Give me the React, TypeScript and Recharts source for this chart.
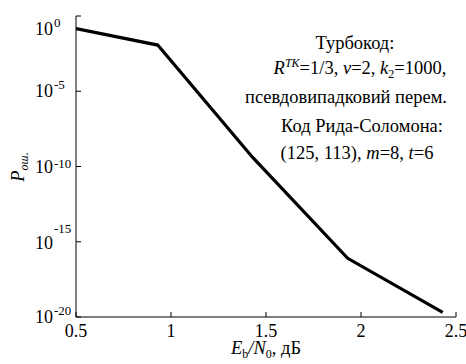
import React from 'react';
import { LineChart, Line, XAxis, YAxis, Customized } from 'recharts';

// Eb/N0, dB
const snr = [0.5, 0.93, 1.43, 1.93, 2.43];
// error probability
const pErr = [0.145, 0.0117, 4e-10, 7.9e-17, 2e-20];

const xTicks = [0.5, 1, 1.5, 2, 2.5];
const yTicks = [1, 1e-5, 1e-10, 1e-15, 1e-20];

const notes = [
  'Турбокод:',
  'R^TK=1/3, v=2, k2=1000,',
  'псевдовипадковий перем.',
  'Код Рида-Соломона:',
  '(125, 113), m=8, t=6',
];

const data = snr.map((x, i) => ({ x, p: pErr[i] }));

const FONT = '"Liberation Serif", "Times New Roman", Times, "DejaVu Serif", "Noto Serif", serif';
const W = 466;
const H = 364;

// superscript raise per exponent (the source figure is a bit uneven here)
const supRaise: Record<number, number> = { 0: 6.5, '-5': 7, '-10': 3, '-15': 14, '-20': 7 };
const labelShift: Record<number, number> = { 0: 13, '-15': 1 };

const txt = { fill: '#000', fontFamily: FONT };

const BottomTick = (props: any) => {
  const { x, y, payload } = props;
  return (
    <g>
      <line x1={x} y1={y} x2={x} y2={y - 5} stroke="#000" />
      <text x={x} y={y + 20} textAnchor="middle" fontSize={18} {...txt}>
        {String(payload.value)}
      </text>
    </g>
  );
};

const TopTick = (props: any) => {
  const { x, y } = props;
  return <line x1={x} y1={y} x2={x} y2={y + 5} stroke="#000" />;
};

const LeftTick = (props: any) => {
  const { x, y, payload } = props;
  const e = Math.round(Math.log10(payload.value));
  const base = y + 6 + (labelShift[e] || 0);
  return (
    <g>
      <line x1={x} y1={y} x2={x + 5} y2={y} stroke="#000" />
      <text x={x - 23} y={base} textAnchor="end" fontSize={18} {...txt}>
        10
      </text>
      <text x={x - 22} y={base - 1.5 - (supRaise[e] || 0)} fontSize={13} {...txt}>
        {String(e)}
      </text>
    </g>
  );
};

const RightTick = (props: any) => {
  const { x, y } = props;
  return <line x1={x} y1={y} x2={x - 5} y2={y} stroke="#000" />;
};

const Notes = () => {
  const t = { fontSize: 18.5, textAnchor: 'middle' as const, ...txt };
  return (
    <g>
      <text x={355} y={49} {...t}>{notes[0]}</text>
      <text x={360} y={74} {...t}>
        <tspan fontStyle="italic">R</tspan>
        <tspan fontStyle="italic" fontSize={12} dy={-7}>TK</tspan>
        <tspan dy={7}>=1/3, </tspan>
        <tspan fontStyle="italic">v</tspan>
        <tspan>=2, </tspan>
        <tspan fontStyle="italic">k</tspan>
        <tspan fontSize={12} dy={4}>2</tspan>
        <tspan dy={-4}>=1000,</tspan>
      </text>
      <text x={346} y={103} {...t}>{notes[2]}</text>
      <text x={362} y={132} {...t}>{notes[3]}</text>
      <text x={357} y={159} {...t}>
        <tspan>(125, 113), </tspan>
        <tspan fontStyle="italic">m</tspan>
        <tspan>=8, </tspan>
        <tspan fontStyle="italic">t</tspan>
        <tspan>=6</tspan>
      </text>
      <text x={266} y={354} {...t}>
        <tspan fontStyle="italic">E</tspan>
        <tspan fontSize={12} dy={4}>b</tspan>
        <tspan dy={-4} fontStyle="italic">/N</tspan>
        <tspan fontSize={12} dy={4}>0</tspan>
        <tspan dy={-4}>, дБ</tspan>
      </text>
      <text x={0} y={0} transform="translate(24,167) rotate(-90)" {...t}>
        <tspan fontStyle="italic">P</tspan>
        <tspan fontStyle="italic" fontSize={12} dy={4}>ош.</tspan>
      </text>
    </g>
  );
};

export default function App() {
  return (
    <div style={{ position: 'absolute', left: 0, top: 0, width: W, height: H, background: '#fff' }}>
      <LineChart width={W} height={H} data={data} margin={{ top: 16, right: 10, left: 0, bottom: 0 }}>
        <XAxis
          xAxisId="b"
          dataKey="x"
          type="number"
          domain={[0.5, 2.5]}
          ticks={xTicks}
          allowDataOverflow
          height={47}
          tickSize={0}
          tickMargin={0}
          tickLine={false}
          axisLine={{ stroke: '#000', strokeWidth: 1 }}
          tick={<BottomTick />}
        />
        <XAxis
          xAxisId="t"
          orientation="top"
          dataKey="x"
          type="number"
          domain={[0.5, 2.5]}
          ticks={xTicks}
          allowDataOverflow
          height={0}
          tickSize={0}
          tickMargin={0}
          tickLine={false}
          axisLine={{ stroke: '#000', strokeWidth: 1 }}
          tick={<TopTick />}
        />
        <YAxis
          yAxisId="l"
          scale="log"
          type="number"
          domain={[1e-20, 1]}
          ticks={yTicks}
          allowDataOverflow
          width={76}
          tickSize={0}
          tickMargin={0}
          tickLine={false}
          axisLine={{ stroke: '#000', strokeWidth: 1 }}
          tick={<LeftTick />}
        />
        <YAxis
          yAxisId="r"
          orientation="right"
          scale="log"
          type="number"
          domain={[1e-20, 1]}
          ticks={yTicks}
          allowDataOverflow
          width={0}
          tickSize={0}
          tickMargin={0}
          tickLine={false}
          axisLine={{ stroke: '#000', strokeWidth: 1 }}
          tick={<RightTick />}
        />
        <Line
          xAxisId="b"
          yAxisId="l"
          type="linear"
          dataKey="p"
          stroke="#000"
          strokeWidth={3.2}
          dot={false}
          isAnimationActive={false}
        />
        <Customized component={Notes} />
      </LineChart>
    </div>
  );
}
